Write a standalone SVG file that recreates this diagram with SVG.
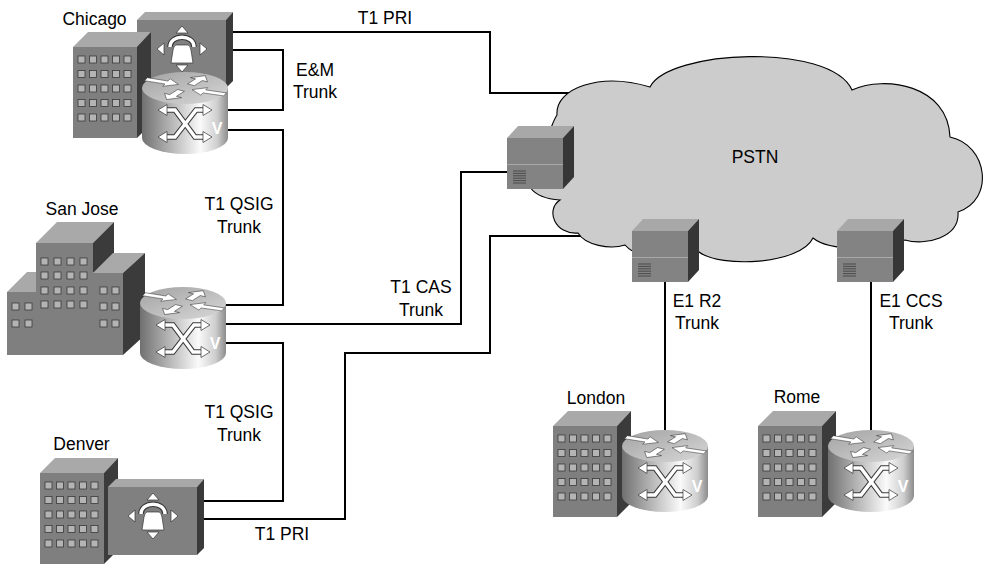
<svg xmlns="http://www.w3.org/2000/svg" xmlns:xlink="http://www.w3.org/1999/xlink" width="984" height="565" viewBox="0 0 984 565">
  <style>
    .lbl { font-family: "Liberation Sans", Arial, Helvetica, sans-serif; font-size: 17.5px; fill: #000; text-anchor: middle; }
    .wire { fill: none; stroke: #000; stroke-width: 2; }
    .win { fill: #b4b4b4; stroke: #3a3a3a; stroke-width: 0.8; }
    .dark { fill: #3b3b3b; }
    .front { fill: #7f7f7f; }
    .top { fill: #a9a9a9; }
    .glyph { fill: #fff; stroke: #333; stroke-width: 0.7; }
  </style>
  <defs>
    <linearGradient id="rbody" x1="0" y1="0" x2="1" y2="0">
      <stop offset="0" stop-color="#707070"/>
      <stop offset="0.35" stop-color="#b8b8b8"/>
      <stop offset="0.68" stop-color="#fafafa"/>
      <stop offset="0.88" stop-color="#cdcdcd"/>
      <stop offset="1" stop-color="#8c8c8c"/>
    </linearGradient>
    <linearGradient id="rtop" x1="0" y1="0" x2="1" y2="1">
      <stop offset="0" stop-color="#a2a2a2"/>
      <stop offset="1" stop-color="#d8d8d8"/>
    </linearGradient>

    <!-- office building: top face, front with 5x5 windows, shaded side -->
    <g id="bldg">
      <polygon class="top" points="0,15 15,0 78,0 64,15"/>
      <polygon class="dark" points="64,15 78,0 78,92 64,106"/>
      <rect class="front" x="0" y="15" width="64" height="91"/>
      <g class="win">
        <rect x="5" y="24" width="7" height="7"/><rect x="16.5" y="24" width="7" height="7"/><rect x="28" y="24" width="7" height="7"/><rect x="39.5" y="24" width="7" height="7"/><rect x="51" y="24" width="7" height="7"/>
        <rect x="5" y="38.5" width="7" height="7"/><rect x="16.5" y="38.5" width="7" height="7"/><rect x="28" y="38.5" width="7" height="7"/><rect x="39.5" y="38.5" width="7" height="7"/><rect x="51" y="38.5" width="7" height="7"/>
        <rect x="5" y="53" width="7" height="7"/><rect x="16.5" y="53" width="7" height="7"/><rect x="28" y="53" width="7" height="7"/><rect x="39.5" y="53" width="7" height="7"/><rect x="51" y="53" width="7" height="7"/>
        <rect x="5" y="67.5" width="7" height="7"/><rect x="16.5" y="67.5" width="7" height="7"/><rect x="28" y="67.5" width="7" height="7"/><rect x="39.5" y="67.5" width="7" height="7"/><rect x="51" y="67.5" width="7" height="7"/>
        <rect x="5" y="82" width="7" height="7"/><rect x="16.5" y="82" width="7" height="7"/><rect x="28" y="82" width="7" height="7"/><rect x="39.5" y="82" width="7" height="7"/><rect x="51" y="82" width="7" height="7"/>
      </g>
    </g>

    <!-- PSTN switch box -->
    <g id="sw">
      <polygon fill="#a8a8a8" points="0,12 11,0 67,0 56,12"/>
      <polygon fill="#363636" points="56,12 67,0 67,51 56,63"/>
      <rect fill="#838383" x="0" y="12" width="56" height="51"/>
      <path d="M0,38.5 H56" stroke="#a8a8a8" stroke-width="1.2"/>
      <path d="M6,45 H19 M6,47.4 H19 M6,49.8 H19 M6,52.2 H19 M6,54.6 H19 M6,57 H19" stroke="#444" stroke-width="0.9"/>
    </g>

    <!-- arrows used on the router top -->
    <path id="arL" d="M0,-4 L22,-4 L22,-10 L35,0 L22,10 L22,4 L0,4 Z"/>
    <path id="arS" d="M0,-4 L15,-4 L15,-10 L27,0 L15,10 L15,4 L0,4 Z"/>

    <!-- voice router cylinder -->
    <g id="router">
      <path d="M0,16 L0,66 A43,16 0 0 0 86,66 L86,16 Z" fill="url(#rbody)"/>
      <ellipse cx="43" cy="16" rx="43" ry="16" fill="url(#rtop)"/>
      <g transform="translate(43,16) scale(1,0.4)" class="glyph">
        <use xlink:href="#arL" transform="translate(-39,-22) rotate(22)"/>
        <use xlink:href="#arL" transform="translate(40,16) rotate(200)"/>
        <use xlink:href="#arS" transform="translate(6,-8) rotate(-58)"/>
        <use xlink:href="#arS" transform="translate(-4,6) rotate(122)"/>
      </g>
      <path d="M24,38 L33,38 L53,65 L62,65 M62,38 L54,38 L33,65 L24,65" fill="none" stroke="#3a3a3a" stroke-width="5.5"/>
      <path d="M24,38 L33,38 L53,65 L62,65 M62,38 L54,38 L33,65 L24,65" fill="none" stroke="#fff" stroke-width="3.5"/>
      <g class="glyph">
        <polygon points="16,38 25,32.5 25,43.5"/>
        <polygon points="70,38 61,32.5 61,43.5"/>
        <polygon points="16,65 25,59.5 25,70.5"/>
        <polygon points="70,65 61,59.5 61,70.5"/>
      </g>
      <text x="75" y="62" font-family="Liberation Sans, Arial, sans-serif" font-size="16" font-weight="bold" fill="#fff" text-anchor="middle">V</text>
    </g>

    <!-- PBX box with phone glyph -->
    <g id="pbx">
      <polygon fill="#a8a8a8" points="0,8 8,0 96,0 89,8"/>
      <polygon fill="#3a3a3a" points="89,8 96,0 96,69 89,76"/>
      <rect fill="#808080" x="0" y="8" width="89" height="68"/>
      <g transform="translate(45,37)" class="glyph">
        <polygon points="-6,-16 6,-16 0,-23"/>
        <polygon points="-6,16 6,16 0,23"/>
        <polygon points="-18,-6 -18,6 -25,0"/>
        <polygon points="18,-6 18,6 25,0"/>
        <path d="M-12,-2 C-12,-15 12,-15 12,-2" fill="none" stroke="#333" stroke-width="5.5"/>
        <path d="M-12,-2 C-12,-15 12,-15 12,-2" fill="none" stroke="#fff" stroke-width="3.5"/>
        <path d="M-6,-4 L6,-4 Q8,-4 9,1 L11,14 L-11,14 L-9,1 Q-8,-4 -6,-4 Z"/>
      </g>
    </g>
  </defs>

  <!-- trunk lines -->
  <g id="connectors" class="wire">
    <path d="M225,32 H490 V93 H578"/>
    <path d="M225,50 H283 V110 H222"/>
    <path d="M222,130 H283 V305 H220"/>
    <path d="M220,324 H461 V172 H510"/>
    <path d="M220,343 H283 V501 H197"/>
    <path d="M197,519 H345 V353 H490 V236 H600"/>
    <path d="M665,280 V440"/>
    <path d="M871,280 V440"/>
  </g>

  <!-- public network cloud -->
  <g id="pstn">
    <path d="M557,115 C555,88 600,72 650,87 C668,50 830,42 852,90 C885,75 948,85 950,137 C988,145 995,200 958,212 C960,238 925,246 905,240 C880,250 830,252 813,238 C800,265 720,268 699,252 C680,262 640,262 625,245 C610,250 585,245 578,233 C555,235 545,210 560,200 C530,198 520,180 535,170 C545,150 550,125 557,115 Z" fill="#cccccc" stroke="#000" stroke-width="1.1"/>
    <text class="lbl" x="755" y="163">PSTN</text>
  </g>

  <g id="switch-west"><use xlink:href="#sw" transform="translate(507,126)"/></g>
  <g id="switch-london"><use xlink:href="#sw" transform="translate(632,219)"/></g>
  <g id="switch-rome"><use xlink:href="#sw" transform="translate(837,219)"/></g>

  <g id="chicago">
    <use xlink:href="#pbx" transform="translate(137,12)"/>
    <use xlink:href="#bldg" transform="translate(73,32)"/>
    <use xlink:href="#router" transform="translate(142,72)"/>
    <text class="lbl" x="94.5" y="25">Chicago</text>
  </g>

  <g id="san-jose">
    <!-- left low block -->
    <polygon class="top" points="7,292 27,272 56,272 36,292"/>
    <rect class="front" x="7" y="292" width="29" height="63"/>
    <!-- center tower -->
    <polygon class="top" points="36,243 57,222 114,222 93,243"/>
    <polygon class="dark" points="93,243 114,222 114,260 93,273"/>
    <rect class="front" x="36" y="243" width="57" height="112"/>
    <!-- right block -->
    <polygon class="top" points="93,273 113,253 145,253 123,273"/>
    <polygon class="dark" points="123,273 145,253 145,335 123,355"/>
    <rect class="front" x="93" y="273" width="30" height="82"/>
    <g class="win">
      <rect x="12" y="303" width="7" height="7"/><rect x="25" y="303" width="7" height="7"/>
      <rect x="12" y="320" width="7" height="7"/><rect x="25" y="320" width="7" height="7"/>
      <rect x="41" y="258" width="7" height="7"/><rect x="54" y="258" width="7" height="7"/><rect x="67" y="258" width="7" height="7"/><rect x="80" y="258" width="7" height="7"/>
      <rect x="41" y="272" width="7" height="7"/><rect x="54" y="272" width="7" height="7"/><rect x="67" y="272" width="7" height="7"/><rect x="80" y="272" width="7" height="7"/>
      <rect x="41" y="287" width="7" height="7"/><rect x="54" y="287" width="7" height="7"/><rect x="67" y="287" width="7" height="7"/><rect x="80" y="287" width="7" height="7"/>
      <rect x="41" y="301" width="7" height="7"/><rect x="54" y="301" width="7" height="7"/><rect x="67" y="301" width="7" height="7"/><rect x="80" y="301" width="7" height="7"/>
      <rect x="100" y="287" width="7" height="7"/><rect x="112" y="287" width="7" height="7"/>
      <rect x="100" y="303" width="7" height="7"/><rect x="112" y="303" width="7" height="7"/>
      <rect x="100" y="320" width="7" height="7"/><rect x="112" y="320" width="7" height="7"/>
    </g>
    <use xlink:href="#router" transform="translate(140,287)"/>
    <text class="lbl" x="82" y="215">San Jose</text>
  </g>

  <g id="denver">
    <use xlink:href="#bldg" transform="translate(40,458)"/>
    <use xlink:href="#pbx" transform="translate(108,479)"/>
    <text class="lbl" x="81.5" y="450">Denver</text>
  </g>

  <g id="london">
    <use xlink:href="#bldg" transform="translate(553,411)"/>
    <use xlink:href="#router" transform="translate(622,430)"/>
    <text class="lbl" x="596" y="404">London</text>
  </g>

  <g id="rome">
    <use xlink:href="#bldg" transform="translate(758,411)"/>
    <use xlink:href="#router" transform="translate(828,430)"/>
    <text class="lbl" x="797" y="403">Rome</text>
  </g>

  <!-- trunk labels -->
  <g id="labels">
    <text class="lbl" x="385" y="24">T1 PRI</text>
    <text class="lbl" x="315" y="76">E&amp;M</text>
    <text class="lbl" x="315" y="98">Trunk</text>
    <text class="lbl" x="239" y="210">T1 QSIG</text>
    <text class="lbl" x="239" y="233">Trunk</text>
    <text class="lbl" x="421" y="293">T1 CAS</text>
    <text class="lbl" x="421" y="316">Trunk</text>
    <text class="lbl" x="239" y="418">T1 QSIG</text>
    <text class="lbl" x="239" y="441">Trunk</text>
    <text class="lbl" x="282" y="540">T1 PRI</text>
    <text class="lbl" x="697" y="307">E1 R2</text>
    <text class="lbl" x="697" y="329">Trunk</text>
    <text class="lbl" x="911" y="307">E1 CCS</text>
    <text class="lbl" x="911" y="329">Trunk</text>
  </g>
</svg>
